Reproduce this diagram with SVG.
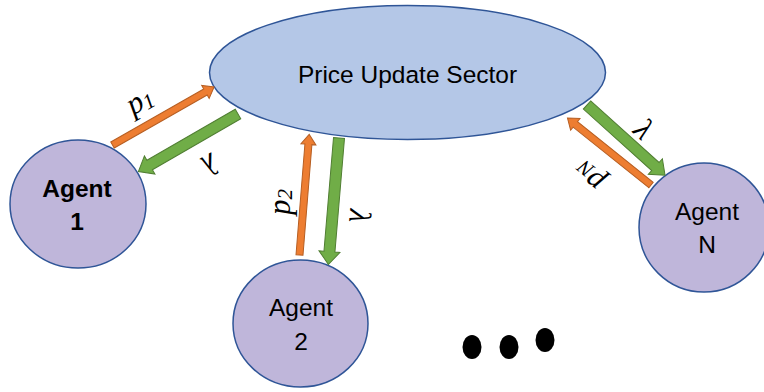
<svg xmlns="http://www.w3.org/2000/svg" width="764" height="392" viewBox="0 0 764 392">
<defs>
<style>
.sector{fill:#B4C7E7;stroke:#2F5597;stroke-width:1.5}
.agent{fill:#BFB6DA;stroke:#2F5597;stroke-width:1.5}
.lbl{font-family:"Liberation Sans",Arial,sans-serif;font-size:24.5px;fill:#000;text-anchor:middle}
.bold{font-weight:bold}
.orange{fill:#ED7D31;stroke:#B65E22;stroke-width:1}
.green{fill:#70AD47;stroke:#507E32;stroke-width:1}
.math{font-family:"Liberation Serif","Times New Roman",serif;font-style:italic;font-size:31px;fill:#000;text-anchor:middle;dominant-baseline:central}
.sub{font-size:21px}
</style>
</defs>
<rect width="764" height="392" fill="#fff"/>
<g id="sector">
<ellipse class="sector" cx="407.5" cy="72.5" rx="198" ry="67"/>
<text class="lbl" x="407.5" y="83">Price Update Sector</text>
</g>
<g id="agent1">
<ellipse class="agent" cx="78" cy="204" rx="68" ry="64"/>
<text class="lbl bold" x="77" y="197">Agent</text>
<text class="lbl bold" x="77" y="230">1</text>
</g>
<g id="agent2">
<ellipse class="agent" cx="300.5" cy="323.5" rx="67.5" ry="63.5"/>
<text class="lbl" x="301" y="316">Agent</text>
<text class="lbl" x="301" y="350">2</text>
</g>
<g id="agentN">
<ellipse class="agent" cx="704" cy="227.5" rx="65" ry="64.5"/>
<text class="lbl" x="707" y="220">Agent</text>
<text class="lbl" x="707" y="253">N</text>
</g>
<g id="dots" fill="#000">
<ellipse cx="472" cy="347" rx="9.5" ry="12"/>
<ellipse cx="509" cy="347" rx="9.5" ry="12"/>
<ellipse cx="545" cy="340" rx="9.5" ry="12"/>
</g>
<g id="connectors">
<path class="orange" transform="translate(112.5,145) rotate(-29.7)" d="M0,-3.5 L107,-3.5 L107,-7.5 L117,0 L107,7.5 L107,3.5 L0,3.5 Z"/>
<path class="green" transform="translate(238,114) rotate(150)" d="M0,-5.5 L102,-5.5 L102,-10.5 L115,0 L102,10.5 L102,5.5 L0,5.5 Z"/>
<path class="orange" transform="translate(299.5,255) rotate(-85.4)" d="M0,-3.5 L111,-3.5 L111,-7.5 L121,0 L111,7.5 L111,3.5 L0,3.5 Z"/>
<path class="green" transform="translate(339,138) rotate(94.8)" d="M0,-5.5 L114,-5.5 L114,-10.5 L127,0 L114,10.5 L114,5.5 L0,5.5 Z"/>
<path class="green" transform="translate(587,105) rotate(42)" d="M0,-5.5 L92,-5.5 L92,-10.5 L105,0 L92,10.5 L92,5.5 L0,5.5 Z"/>
<path class="orange" transform="translate(651,185) rotate(-141.3)" d="M0,-3.5 L97,-3.5 L97,-7.5 L107,0 L97,7.5 L97,3.5 L0,3.5 Z"/>
</g>
<g id="labels">
<text class="math" transform="translate(139,100) rotate(-30)">p<tspan class="sub" dy="6">1</tspan></text>
<text class="math" transform="translate(210,165) rotate(150)">λ</text>
<text class="math" transform="translate(279,202) rotate(-90)">p<tspan class="sub" dy="6">2</tspan></text>
<text class="math" transform="translate(360,216) rotate(95)">λ</text>
<text class="math" transform="translate(644,129) rotate(42)">λ</text>
<text class="math" transform="translate(588,178) rotate(219)">p<tspan class="sub" dy="6">N</tspan></text>
</g>
</svg>
